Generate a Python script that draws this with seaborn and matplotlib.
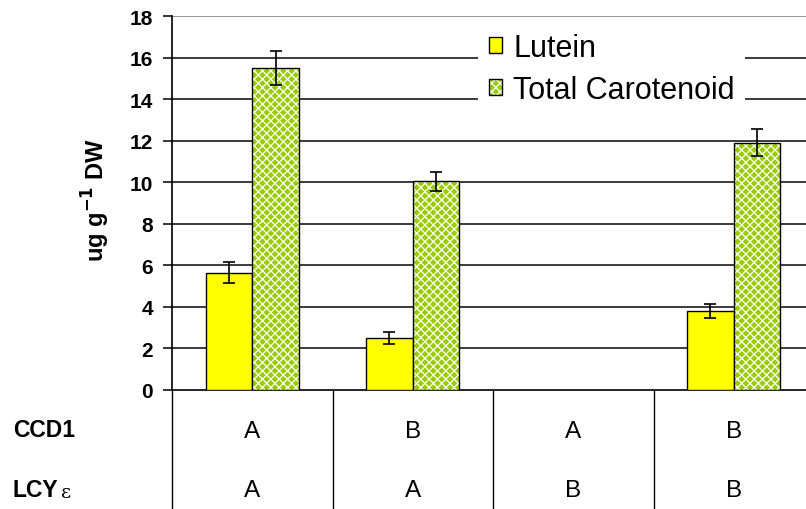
import numpy as np
import pandas as pd
import matplotlib
matplotlib.use("Agg")
import matplotlib.pyplot as plt
import seaborn as sns
from matplotlib.patches import Patch, Rectangle
from matplotlib.transforms import blended_transform_factory

# Genotype combinations (one column of the lower table per group)
groups = ["g1", "g2", "g3", "g4"]
ccd1 = ["A", "B", "A", "B"]
lcy_e = ["A", "A", "B", "B"]

# Pigment content, ug g-1 DW (third combination was not measured)
lutein = [5.65, 2.5, np.nan, 3.8]
lutein_err = [0.5, 0.3, np.nan, 0.35]
total = [15.5, 10.05, np.nan, 11.9]
total_err = [0.8, 0.45, np.nan, 0.65]

series = ["Lutein", "Total Carotenoid"]
yticks = [0, 2, 4, 6, 8, 10, 12, 14, 16, 18]

YELLOW = "#FFFF00"
GREEN = "#99CC00"
HATCH = "xxxx"

sns.set_theme(style="white")
plt.rcParams["font.family"] = ["Liberation Sans", "DejaVu Sans"]
plt.rcParams["hatch.linewidth"] = 0.9
for key in ["text.color", "axes.labelcolor", "xtick.color", "ytick.color"]:
    plt.rcParams[key] = "black"

rows = []
for g, l, t in zip(groups, lutein, total):
    if not np.isnan(l):
        rows.append({"group": g, "series": series[0], "value": l})
    if not np.isnan(t):
        rows.append({"group": g, "series": series[1], "value": t})
df = pd.DataFrame(rows)
errs = {series[0]: lutein_err, series[1]: total_err}

fig = plt.figure(figsize=(8.06, 5.10), dpi=100)
ax = fig.add_axes([172 / 806, 119 / 510, 642 / 806, 374 / 510])

sns.barplot(data=df, x="group", y="value", hue="series", order=groups,
            hue_order=series, palette=[YELLOW, GREEN], width=0.58,
            errorbar=None, edgecolor="black", linewidth=1.0, saturation=1,
            legend=False, ax=ax, zorder=3)

# hatch the carotenoid bars (white pattern) and outline every bar in black
for name, cont in zip(series, ax.containers):
    for p in cont.patches:
        if not np.isfinite(p.get_height()):
            continue
        cx = p.get_x() + p.get_width() / 2
        idx = int(round(cx))
        if name == series[1]:
            p.set_edgecolor("white")
            p.set_hatch(HATCH)
            p.set_linewidth(0)
            ax.add_patch(Rectangle((p.get_x(), 0), p.get_width(), p.get_height(),
                                   fill=False, edgecolor="black", lw=1.0, zorder=3.5))
        ax.errorbar(cx, p.get_height(), yerr=errs[name][idx], fmt="none",
                    ecolor="black", elinewidth=1.2, capsize=4.3, capthick=1.2,
                    zorder=4)

ax.set_xlim(-0.5, 3.5)
ax.set_ylim(0, 18)
ax.set_yticks(yticks)
ax.set_yticklabels([str(v) for v in yticks], fontsize=15, fontweight="bold")
ax.tick_params(axis="y", direction="out", length=6.5, width=1.1, pad=7,
               color="black", left=True)
ax.tick_params(axis="x", bottom=False, labelbottom=False)
ax.set_xlabel("")
ax.set_ylabel(r"ug g$^{\mathbf{-1}}$ DW", fontsize=17, fontweight="bold")
ax.yaxis.set_label_coords(-0.093, 0.51)

# horizontal grid behind bars
for v in yticks[1:]:
    ax.axhline(v, color="#888888" if v == 18 else "#1a1a1a", lw=1.2, zorder=1)

for s in ["top", "right"]:
    ax.spines[s].set_visible(False)
for s in ["left", "bottom"]:
    ax.spines[s].set_color("black")
    ax.spines[s].set_linewidth(1.2)

# lower table: column separators and genotype letters
trans = blended_transform_factory(ax.transData, ax.transAxes)
for b in np.arange(-0.5, len(groups) - 0.5 + 1e-9, 1.0):
    ax.plot([b, b], [0, -0.35], transform=trans, color="black", lw=1.0,
            clip_on=False)
row_y = [-(432 - 391) / 374, -(491 - 391) / 374]
for i, (c, l) in enumerate(zip(ccd1, lcy_e)):
    ax.text(i, row_y[0], c, transform=trans, ha="center", va="center",
            fontsize=17.5)
    ax.text(i, row_y[1], l, transform=trans, ha="center", va="center",
            fontsize=17.5)
fig.text(13 / 806, 1 - 431 / 510, "CCD1", ha="left", va="center",
         fontsize=16.5, fontweight="bold")
fig.text(13 / 806, 1 - 491 / 510, "LCY", ha="left", va="center",
         fontsize=16.5, fontweight="bold")
fig.text(61 / 806, 1 - 493 / 510, "\u03b5", ha="left", va="center",
         fontsize=14, family=["DejaVu Serif"])

# legend
h_lut = Patch(facecolor=YELLOW, edgecolor="black", lw=1.0)
h_tot = (Patch(facecolor=GREEN, edgecolor="white", hatch=HATCH, lw=0),
         Patch(facecolor="none", edgecolor="black", lw=1.0))
leg = ax.legend([h_lut, h_tot], series, loc="upper left",
                bbox_to_anchor=(478 / 806, 1 - 23 / 510),
                bbox_transform=fig.transFigure, borderaxespad=0,
                fontsize=22, handlelength=0.45, handleheight=0.45,
                handletextpad=0.35, labelspacing=0.4, borderpad=0.35,
                frameon=True, fancybox=False, framealpha=1)
leg.get_frame().set_facecolor("white")
leg.get_frame().set_edgecolor("none")
leg.set_zorder(5)

fig.savefig("out.png", dpi=100)
